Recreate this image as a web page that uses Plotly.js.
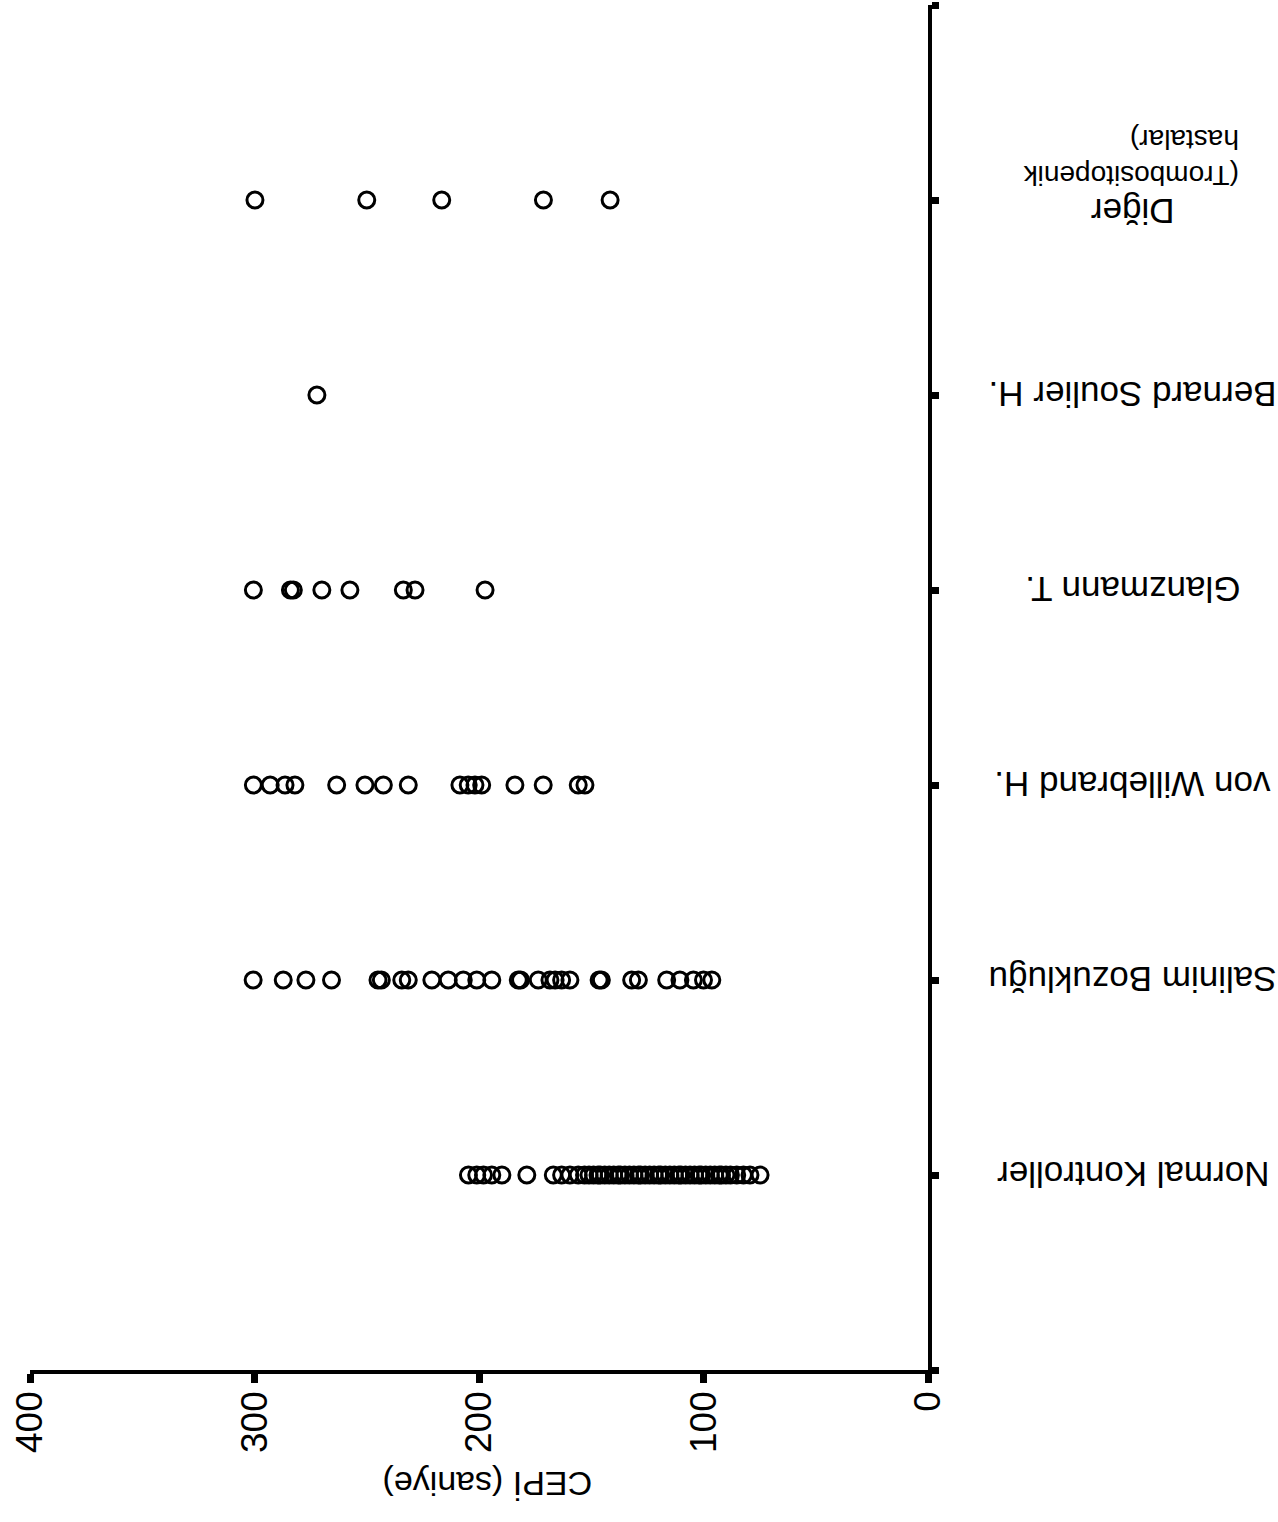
<!DOCTYPE html>
<html>
<head>
<meta charset="utf-8">
<script src="https://cdn.plot.ly/plotly-3.0.1.min.js"></script>
<style>
  html, body { margin: 0; padding: 0; background: #ffffff; }
  #chart { width: 1278px; height: 1522px; }
</style>
</head>
<body>
<div id="chart"></div>
<script>
// Category labels (bottom to top)
const categories = [
  "Normal Kontroller",
  "Salinim Bozukluğu",
  "von Willebrand H.",
  "Glanzmann T.",
  "Bernard Soulier H.",
  "Diğer<br>(Trombositopenik<br>hastalar)"
];

// CEPİ values (saniye)
const normalKontroller = [204.7, 201, 198, 194.3, 189.8, 178.7, 166.9, 163.2, 159.5, 155.8,
  153, 151, 149, 147, 146, 144, 142, 140, 138, 137, 135, 133, 131, 129, 128, 126, 124, 122,
  120, 119, 117, 115, 113, 111, 110, 108, 106, 104, 102, 101, 99, 97, 95, 93, 92, 90, 88,
  85.2, 82.2, 79.3, 74.8];
const salinimBozuklugu = [300.6, 287.2, 277.1, 265.7, 245, 243.5, 234.4, 231.5, 221, 213.7,
  207, 201, 194.3, 182.5, 181.5, 173.6, 168.4, 166.1, 163.2, 159.5, 146.5, 145.5, 132, 129,
  116.4, 110.5, 104.5, 100, 96.3];
const vonWillebrand = [300.5, 293, 286.4, 282, 263.4, 250.8, 242.6, 231.5, 208.5, 204.8,
  201.8, 198.8, 184, 171.4, 155.8, 152.8];
const glanzmann = [300.5, 284, 282.7, 270, 257.5, 233.7, 228.5, 197.3];
const bernardSoulier = [272.2];
const diger = [299.8, 250, 216.6, 171.3, 141.6];

const seriesValues = [normalKontroller, salinimBozuklugu, vonWillebrand, glanzmann, bernardSoulier, diger];

// Value axis ticks
const valueTicks = [0, 100, 200, 300, 400];

const FONT = "Liberation Sans, Arial, Helvetica, sans-serif";

const traces = seriesValues.map((vals, i) => ({
  type: "scatter",
  mode: "markers",
  x: vals,
  y: vals.map(() => i),
  marker: {
    symbol: "circle-open",
    size: 16,
    color: "#000000",
    line: { width: 3, color: "#000000" }
  },
  hoverinfo: "x",
  showlegend: false
}));

// Category labels drawn upside down, as in the reference
const annotations = [];
categories.forEach((c, i) => {
  const parts = c.split("<br>");
  annotations.push({
    xref: "paper", yref: "y",
    x: 1.228, y: i,
    text: parts[0],
    showarrow: false,
    textangle: 180,
    xanchor: "center", yanchor: "middle",
    yshift: parts.length > 1 ? -12 : 0,
    font: { family: FONT, size: 35, color: "#000000" }
  });
  if (parts.length > 1) {
    annotations.push({
      xref: "paper", yref: "y",
      x: 1.226, y: i,
      text: parts.slice(1).join("<br>"),
      showarrow: false,
      textangle: 180,
      align: "left",
      xanchor: "center", yanchor: "middle",
      yshift: 42,
      font: { family: FONT, size: 28, color: "#000000" }
    });
  }
});

// Value axis title (upside down)
annotations.push({
  xref: "paper", yref: "paper",
  x: 0.509, y: -0.084,
  text: "CEPİ (saniye)",
  showarrow: false,
  textangle: 180,
  xanchor: "center", yanchor: "middle",
  font: { family: FONT, size: 34, color: "#000000" }
});

const catTickVals = [-1].concat(categories.map((_, i) => i)).concat([categories.length]);

const layout = {
  width: 1278,
  height: 1522,
  paper_bgcolor: "#ffffff",
  plot_bgcolor: "#ffffff",
  margin: { l: 30, r: 350, t: 5, b: 152, pad: 0 },
  font: { family: FONT, color: "#000000" },
  showlegend: false,
  xaxis: {
    range: [400, 0],
    autorange: false,
    tickmode: "array",
    tickvals: valueTicks,
    ticktext: valueTicks.map(String),
    tickangle: -90,
    ticks: "outside",
    ticklen: 9,
    tickwidth: 7,
    tickcolor: "#000000",
    ticklabelstandoff: -6,
    showline: true,
    linewidth: 3.5,
    linecolor: "#000000",
    showgrid: false,
    zeroline: false,
    tickfont: { family: FONT, size: 37, color: "#000000" }
  },
  yaxis: {
    range: [-1, categories.length],
    autorange: false,
    side: "right",
    tickmode: "array",
    tickvals: catTickVals,
    ticktext: catTickVals.map(() => ""),
    ticks: "outside",
    ticklen: 7,
    tickwidth: 7,
    tickcolor: "#000000",
    showline: true,
    linewidth: 3.5,
    linecolor: "#000000",
    showgrid: false,
    zeroline: false
  },
  annotations: annotations
};

Plotly.newPlot("chart", traces, layout, { displayModeBar: false, staticPlot: true });
</script>
</body>
</html>
